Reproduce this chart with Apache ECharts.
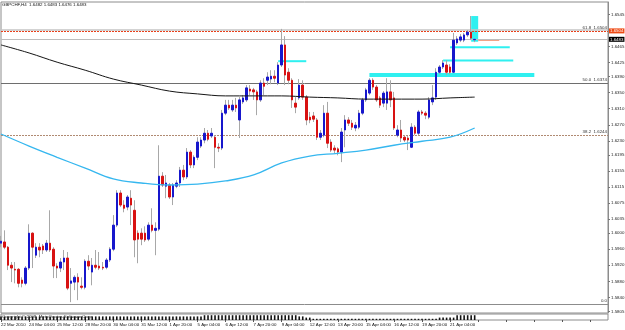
<!DOCTYPE html>
<html>
<head>
<meta charset="utf-8">
<title>GBPCHF,H4</title>
<script src="https://cdn.jsdelivr.net/npm/echarts@6/dist/echarts.min.js"></script>
<style>
  html, body { margin: 0; padding: 0; background: #fff; }
  #chart { width: 625px; height: 330px; }
</style>
</head>
<body>
<div id="chart"></div>
<script>
// time scale, one label every 8 H4 bars
const xLabels = ['22 Mar 2010', '24 Mar 04:00', '25 Mar 12:00', '28 Mar 20:00', '30 Mar 04:00',
  '31 Mar 12:00', '1 Apr 20:00', '5 Apr 04:00', '6 Apr 12:00', '7 Apr 20:00', '9 Apr 04:00',
  '12 Apr 12:00', '13 Apr 20:00', '15 Apr 04:00', '16 Apr 12:00', '19 Apr 20:00', '21 Apr 04:00']

// candles
const open = [
  1.5975, 1.5978, 1.5965, 1.5920, 1.5910, 1.5910, 1.5883, 1.5875, 1.5913, 1.6000,
  1.5945, 1.5965, 1.5968, 1.5958, 1.5975, 1.5960, 1.5918, 1.5913, 1.5928, 1.5938,
  1.5875, 1.5878, 1.5890, 1.5868, 1.5865, 1.5930, 1.5903, 1.5920, 1.5918, 1.5915,
  1.5915, 1.5933, 1.5960, 1.6020, 1.6100, 1.6070, 1.6065, 1.6087, 1.6057, 1.6000,
  1.6000, 1.6000, 1.5985, 1.6020, 1.6007, 1.6010, 1.6142, 1.6117, 1.6120, 1.6090,
  1.6117, 1.6125, 1.6157, 1.6140, 1.6202, 1.6170, 1.6189, 1.6217, 1.6232, 1.6249,
  1.6242, 1.6239, 1.6214, 1.6212, 1.6299, 1.6319, 1.6307, 1.6319, 1.6282, 1.6327,
  1.6332, 1.6359, 1.6357, 1.6352, 1.6332, 1.6374, 1.6381, 1.6384, 1.6391, 1.6374,
  1.6419, 1.6469, 1.6401, 1.6381, 1.6324, 1.6337, 1.6369, 1.6339, 1.6289, 1.6292,
  1.6282, 1.6239, 1.6244, 1.6299, 1.6227, 1.6212, 1.6210, 1.6202, 1.6257, 1.6282,
  1.6274, 1.6262, 1.6264, 1.6299, 1.6332, 1.6349, 1.6381, 1.6364, 1.6337, 1.6324,
  1.6324, 1.6352, 1.6337, 1.6244, 1.6257, 1.6239, 1.6237, 1.6214, 1.6264, 1.6249,
  1.6302, 1.6299, 1.6289, 1.6327, 1.6339, 1.6401, 1.6414, 1.6419, 1.6414, 1.6401,
  1.6474, 1.6481, 1.6481, 1.6494, 1.6501, 1.6482]
const close = [
  1.5980, 1.5965, 1.5920, 1.5913, 1.5908, 1.5875, 1.5875, 1.5913, 1.6000, 1.5965,
  1.5965, 1.5958, 1.5958, 1.5975, 1.5958, 1.5918, 1.5913, 1.5928, 1.5938, 1.5863,
  1.5881, 1.5890, 1.5878, 1.5865, 1.5930, 1.5918, 1.5920, 1.5915, 1.5913, 1.5913,
  1.5933, 1.5960, 1.6020, 1.6100, 1.6070, 1.6062, 1.6090, 1.6070, 1.5983, 1.5985,
  1.5985, 1.5983, 1.6020, 1.6007, 1.6012, 1.6142, 1.6120, 1.6125, 1.6090, 1.6120,
  1.6125, 1.6157, 1.6140, 1.6202, 1.6170, 1.6189, 1.6227, 1.6232, 1.6249, 1.6234,
  1.6249, 1.6214, 1.6212, 1.6299, 1.6319, 1.6312, 1.6319, 1.6312, 1.6332, 1.6337,
  1.6362, 1.6354, 1.6352, 1.6332, 1.6374, 1.6366, 1.6389, 1.6391, 1.6386, 1.6419,
  1.6469, 1.6394, 1.6381, 1.6332, 1.6314, 1.6369, 1.6339, 1.6282, 1.6282, 1.6284,
  1.6239, 1.6249, 1.6299, 1.6224, 1.6207, 1.6207, 1.6202, 1.6252, 1.6282, 1.6274,
  1.6264, 1.6269, 1.6299, 1.6332, 1.6357, 1.6381, 1.6364, 1.6332, 1.6319, 1.6349,
  1.6352, 1.6332, 1.6262, 1.6257, 1.6237, 1.6232, 1.6232, 1.6264, 1.6249, 1.6302,
  1.6299, 1.6294, 1.6332, 1.6337, 1.6401, 1.6414, 1.6424, 1.6401, 1.6401, 1.6481,
  1.6484, 1.6489, 1.6494, 1.6501, 1.6486, 1.6483]
const low = [
  1.5965, 1.5960, 1.5908, 1.5878, 1.5875, 1.5865, 1.5865, 1.5870, 1.5908, 1.5913,
  1.5938, 1.5940, 1.5948, 1.5953, 1.5953, 1.5888, 1.5888, 1.5903, 1.5908, 1.5858,
  1.5828, 1.5858, 1.5833, 1.5860, 1.5860, 1.5908, 1.5870, 1.5910, 1.5908, 1.5908,
  1.5910, 1.5928, 1.5955, 1.6015, 1.6065, 1.6052, 1.6057, 1.6020, 1.5940, 1.5925,
  1.5970, 1.5978, 1.5980, 1.6002, 1.5945, 1.6005, 1.6115, 1.6087, 1.6085, 1.6070,
  1.6112, 1.6115, 1.6132, 1.6135, 1.6162, 1.6162, 1.6182, 1.6212, 1.6224, 1.6229,
  1.6237, 1.6162, 1.6202, 1.6207, 1.6294, 1.6307, 1.6302, 1.6302, 1.6237, 1.6322,
  1.6327, 1.6344, 1.6332, 1.6294, 1.6327, 1.6344, 1.6369, 1.6371, 1.6376, 1.6369,
  1.6414, 1.6369, 1.6371, 1.6312, 1.6299, 1.6332, 1.6332, 1.6269, 1.6274, 1.6277,
  1.6232, 1.6232, 1.6239, 1.6212, 1.6202, 1.6199, 1.6194, 1.6177, 1.6214, 1.6267,
  1.6257, 1.6254, 1.6259, 1.6294, 1.6327, 1.6344, 1.6357, 1.6327, 1.6312, 1.6314,
  1.6307, 1.6314, 1.6257, 1.6239, 1.6227, 1.6227, 1.6207, 1.6212, 1.6244, 1.6244,
  1.6294, 1.6284, 1.6284, 1.6319, 1.6332, 1.6396, 1.6409, 1.6394, 1.6396, 1.6399,
  1.6469, 1.6476, 1.6476, 1.6489, 1.6481, 1.6476]
const high = [
  1.5993, 1.6007, 1.5968, 1.5928, 1.5928, 1.5913, 1.5890, 1.5918, 1.6022, 1.6002,
  1.5975, 1.5975, 1.5973, 1.5983, 1.6057, 1.5965, 1.5925, 1.5938, 1.5958, 1.5953,
  1.5913, 1.5895, 1.5900, 1.5890, 1.5935, 1.5945, 1.5938, 1.5958, 1.5953, 1.5928,
  1.5938, 1.5965, 1.6045, 1.6107, 1.6107, 1.6082, 1.6095, 1.6107, 1.6082, 1.6007,
  1.6012, 1.6017, 1.6027, 1.6062, 1.6027, 1.6219, 1.6152, 1.6145, 1.6125, 1.6125,
  1.6132, 1.6165, 1.6170, 1.6212, 1.6207, 1.6194, 1.6239, 1.6239, 1.6262, 1.6257,
  1.6262, 1.6244, 1.6224, 1.6307, 1.6332, 1.6332, 1.6332, 1.6337, 1.6339, 1.6344,
  1.6369, 1.6369, 1.6362, 1.6357, 1.6381, 1.6386, 1.6401, 1.6406, 1.6406, 1.6426,
  1.6509, 1.6491, 1.6411, 1.6386, 1.6339, 1.6384, 1.6381, 1.6344, 1.6302, 1.6302,
  1.6287, 1.6257, 1.6319, 1.6327, 1.6234, 1.6219, 1.6214, 1.6262, 1.6294, 1.6289,
  1.6282, 1.6277, 1.6307, 1.6337, 1.6362, 1.6386, 1.6386, 1.6369, 1.6342, 1.6354,
  1.6386, 1.6381, 1.6352, 1.6269, 1.6282, 1.6244, 1.6242, 1.6274, 1.6269, 1.6307,
  1.6307, 1.6304, 1.6339, 1.6369, 1.6411, 1.6419, 1.6431, 1.6431, 1.6421, 1.6499,
  1.6491, 1.6496, 1.6499, 1.6506, 1.6541, 1.6483]

// moving averages, read every 8 bars
const maIdx = [0, 8, 16, 24, 32, 40, 48, 56, 64, 72, 80, 88, 96, 104, 112, 120, 128, 135]
const maSlow = [1.6469, 1.6449, 1.6426, 1.6406, 1.6384, 1.6369, 1.6354, 1.6347, 1.6342,
  1.6342, 1.6342, 1.6339, 1.6337, 1.6334, 1.6334, 1.6334, 1.6337, 1.6339]
const maFast = [1.6247, 1.6217, 1.6189, 1.6162, 1.6135, 1.6125, 1.6120, 1.6122, 1.6130,
  1.6145, 1.6175, 1.6192, 1.6199, 1.6207, 1.6219, 1.6229, 1.6239, 1.6262]

// sub window histogram
const histo = [
  3, 3, 3, 3, 3, 3, 3, 3, 3, 3,
  3, 3, 3, 3, 3, 3, 3, 3, 3, 3,
  3, 3, 3, 3, 3, 3, 3, 3, 3, 3,
  3, 3, 3, 3, 3, 3, 3, 3, 3, 3,
  3, 3, 3, 3, 3, 3, 3, 3, 3, 3,
  3, 3, 3, 3, 3, 3, 3, 3, 4, 4,
  4, 4, 4, 4, 4, 4, 4, 4, 4, 4,
  4, 4, 4, 4, 4, 4, 4, 4, 4, 4,
  4, 4, 4, 4, 4, 3, 3, 2, 2, 1,
  1, 1, 1, 1, 1, 1, 1, 1, 1, 1,
  1, 1, 1, 1, 1, 1, 1, 1, 1, 1,
  1, 1, 1, 1, 1, 1, 1, 1, 1, 1,
  1, 1, 1, 1, 1, 2, 2, 2, 2, 2,
  4, 4, 4, 4, 4, 4]

// price scale labels
const yTicks = [1.6545, 1.6465, 1.6425, 1.6390, 1.6350, 1.6310, 1.6270, 1.6230, 1.6195,
  1.6155, 1.6115, 1.6075, 1.6035, 1.6000, 1.5960, 1.5920, 1.5880, 1.5840, 1.5805]

// fibonacci levels
const fibNames = ['61.8', '50.0', '38.2', '0.0']
const fibPrices = [1.6504, 1.6374, 1.6244, 1.5823]
const greyLine = 1.6507
const bid = 1.6483

// cyan rectangles: first bar, last bar, top, bottom
const boxFrom = [79, 105, 126, 128, 134]
const boxTo = [87, 152, 146, 145, 136]
const boxTop = [1.6431, 1.6399, 1.6433, 1.6466, 1.6541]
const boxBottom = [1.6426, 1.6389, 1.6428, 1.6461, 1.6477]

const N = 174  // bar slots, the right part stays empty
const FS = 4.4 // tiny terminal font
var cats = []
for (var i = 0; i < N; i++) cats.push(String(i))

var wickData = []
var bodyData = []
for (var i = 0; i < open.length; i++) {
  wickData.push([open[i], close[i], low[i], high[i]])
  bodyData.push([open[i], close[i], Math.min(open[i], close[i]), Math.max(open[i], close[i])])
}

function pairs(idx, vals) {
  return idx.map(function (x, k) { return [x, vals[k]] })
}

var areas = []
for (var k = 0; k < boxFrom.length; k++) {
  areas.push([{ xAxis: boxFrom[k], yAxis: boxTop[k] }, { xAxis: boxTo[k], yAxis: boxBottom[k] }])
}

var fibStyles = [
  { color: '#e8401a', type: [2, 1], width: 1 },
  { color: '#6e6e6e', type: 'solid', width: 1 },
  { color: '#b08a72', type: [2, 1], width: 1 },
  { color: '#8c8c8c', type: 'solid', width: 1 }
]
var lines = [
  { yAxis: greyLine, lineStyle: { color: '#c4c4c4', width: 1.5, type: 'solid' }, label: { show: false } },
  { yAxis: bid, lineStyle: { color: '#bdbdbd', width: 1, type: 'solid' },
    label: { show: true, position: 'end', distance: 1, formatter: bid.toFixed(4), fontSize: FS,
      color: '#fff', backgroundColor: '#000', padding: [1, 1, 0, 1] } }
]
fibPrices.forEach(function (p, k) {
  lines.push({ yAxis: p, lineStyle: fibStyles[k],
    label: { show: true, position: 'insideEndTop', distance: 1, fontSize: FS, color: '#333',
      formatter: k === 3 ? fibNames[k] : fibNames[k] + '  ' + p.toFixed(4) } })
})
// axis box of the red level
lines.push({ yAxis: fibPrices[0], lineStyle: { width: 0 },
  label: { show: true, position: 'end', distance: 1, formatter: fibPrices[0].toFixed(4), fontSize: FS,
    color: '#fff', backgroundColor: '#ee4a14', padding: [1, 1, 0, 1] } })
lines.push([{ coord: [136, 1.6480], lineStyle: { color: '#f2a386', width: 1, type: 'solid' }, label: { show: false } },
  { coord: [142, 1.6480] }])

var chart = echarts.init(document.getElementById('chart'), null, { renderer: 'canvas' })

var option = {
  animation: false,
  backgroundColor: '#fff',
  textStyle: { fontFamily: 'Liberation Sans' },
  title: [
    { text: 'GBPCHF,H4  1.6482 1.6483 1.6476 1.6483', left: 2, top: 3, padding: 0,
      textStyle: { fontSize: FS, fontWeight: 'normal', color: '#111' } },
    { text: 'Copyright \u00a9 2009, MetaQuotes Software Corp.', left: 2, top: 315, padding: 0,
      textStyle: { fontSize: FS, fontWeight: 'normal', color: '#222' } }
  ],
  grid: [
    { left: 1, right: 17, top: 2, height: 311, show: true, borderColor: '#8c8c8c', borderWidth: 1,
      backgroundColor: '#fff', outerBoundsMode: 'none' },
    { left: 1, right: 17, top: 314, height: 6, show: true, borderColor: '#8c8c8c', borderWidth: 1,
      outerBoundsMode: 'none' }
  ],
  xAxis: [
    { type: 'category', gridIndex: 0, data: cats, boundaryGap: false,
      axisLine: { show: false }, axisTick: { show: false }, axisLabel: { show: false }, splitLine: { show: false } },
    { type: 'category', gridIndex: 1, data: cats, boundaryGap: false,
      axisLine: { show: false },
      axisTick: { show: true, interval: 7, length: 2, lineStyle: { color: '#555' } },
      axisLabel: { interval: 7, fontSize: FS, color: '#111', align: 'left', margin: 3,
        formatter: function (v, idx) { return xLabels[idx / 8] || '' } },
      splitLine: { show: false } }
  ],
  yAxis: [
    { type: 'value', gridIndex: 0, position: 'right', min: 1.5801, max: 1.6576,
      axisLine: { show: true, lineStyle: { color: '#8c8c8c' } },
      axisTick: { show: true, customValues: yTicks, length: 2, lineStyle: { color: '#777' } },
      axisLabel: { customValues: yTicks, fontSize: FS, color: '#222', margin: 3,
        formatter: function (v) { return v.toFixed(4) } },
      splitLine: { show: false } },
    { type: 'value', gridIndex: 1, position: 'right', min: 0, max: 5,
      axisLine: { show: false }, axisTick: { show: false }, axisLabel: { show: false }, splitLine: { show: false } }
  ],
  series: [
    {
      name: 'wick', type: 'candlestick', xAxisIndex: 0, yAxisIndex: 0, silent: true,
      data: wickData, barWidth: 1,
      itemStyle: { color: '#a8a8a8', color0: '#a8a8a8', borderColor: '#a8a8a8', borderColor0: '#a8a8a8', borderWidth: 1 },
      markArea: { silent: true, itemStyle: { color: '#2ff0f0', opacity: 1 }, data: areas },
      markLine: { silent: true, symbol: 'none', precision: 4, z: 1, data: lines }
    },
    {
      name: 'body', type: 'candlestick', xAxisIndex: 0, yAxisIndex: 0, silent: true,
      data: bodyData, barWidth: 2,
      itemStyle: { color: '#1717cc', color0: '#d81212', borderColor: '#1717cc', borderColor0: '#d81212', borderWidth: 1 }
    },
    {
      name: 'MA slow', type: 'line', xAxisIndex: 0, yAxisIndex: 0, data: pairs(maIdx, maSlow),
      smooth: 0.4, showSymbol: false, silent: true, lineStyle: { color: '#151515', width: 1 }
    },
    {
      name: 'MA fast', type: 'line', xAxisIndex: 0, yAxisIndex: 0, data: pairs(maIdx, maFast),
      smooth: 0.4, showSymbol: false, silent: true, lineStyle: { color: '#36b7ef', width: 1.3 }
    },
    {
      name: 'histogram', type: 'bar', xAxisIndex: 1, yAxisIndex: 1, data: histo, barWidth: 1.6,
      silent: true, itemStyle: { color: '#111' }
    }
  ]
}
chart.setOption(option)
</script>
</body>
</html>
